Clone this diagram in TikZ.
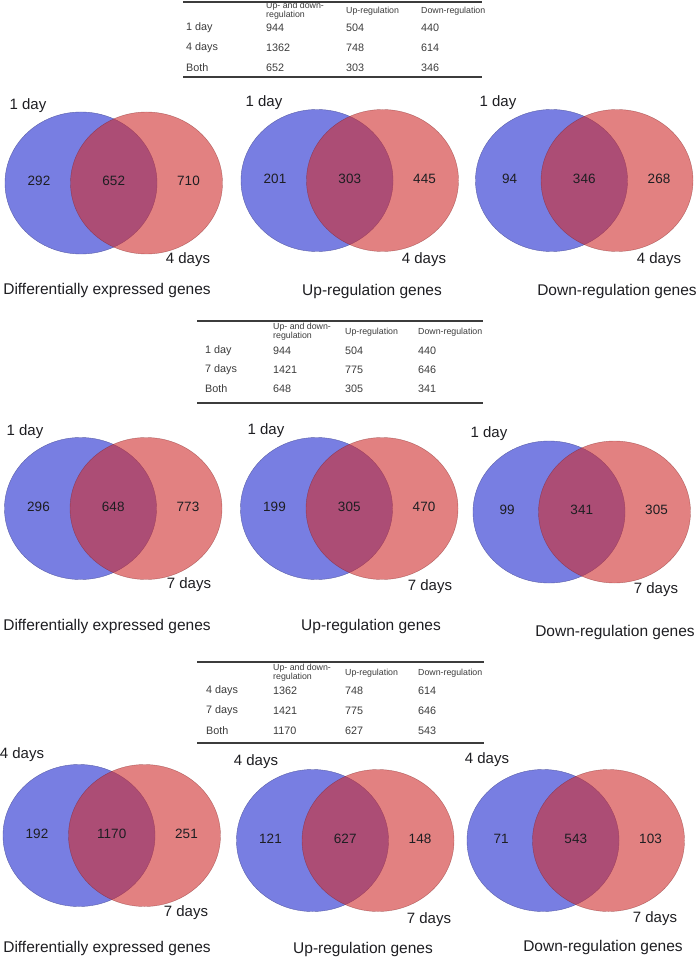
\documentclass[tikz,border=0pt]{standalone}
\usepackage{fontspec}
\setmainfont{Liberation Sans}
\definecolor{vblue}{RGB}{120,126,226}
\definecolor{vred}{RGB}{207,45,45}
\definecolor{txt}{RGB}{30,30,34}
\definecolor{tgray}{RGB}{60,60,60}
\newcommand\vennP[6]{%
  \fill[vblue] (#2,#3) ellipse [x radius=76pt, y radius=71pt];
  \draw[vblue!75!black, line width=0.4pt] (#2,#3) ellipse [x radius=76pt, y radius=71pt];
  \fill[vred, opacity=0.6] (#2+65.5,#3) ellipse [x radius=76pt, y radius=71pt];
  \draw[vred!60!black, opacity=0.5, line width=0.4pt] (#2+65.5,#3) ellipse [x radius=76pt, y radius=71pt];
  \node[num] (#1a) at (#2-42,#3-2) {#4};
  \node[num] (#1b) at (#2+32.75,#3-2) {#5};
  \node[num] (#1c) at (#2+107.5,#3-2) {#6};
}
\newcommand\trow[7]{%
  \node[tcell] (#1l) at (#7,#2) {#3};
  \node[tcell] (#1a) at (\cA,#2) {#4};
  \node[tcell] (#1b) at (\cB,#2) {#5};
  \node[tcell] (#1c) at (\cC,#2) {#6};
}
\newcommand\thdr[2]{%
  \node[thead] (#1a) at (\cA,#2) {Up- and down-\\regulation};
  \node[thead] (#1b) at (\cB,#2) {Up-regulation};
  \node[thead] (#1c) at (\cC,#2) {Down-regulation};
}
\begin{document}
\begin{tikzpicture}[x=1pt,y=-1pt,
  lab/.style={inner sep=0pt,text=txt,font=\fontsize{15}{18}\selectfont},
  num/.style={inner sep=0pt,text=txt,font=\fontsize{13.5}{16}\selectfont},
  ttl/.style={inner sep=0pt,text=txt,font=\fontsize{15.5}{18}\selectfont},
  tcell/.style={inner sep=0pt,anchor=west,text=tgray,font=\fontsize{10.8}{13}\selectfont},
  thead/.style={inner sep=0pt,anchor=west,text=tgray,align=left,font=\fontsize{8.8}{7}\selectfont},
  rulel/.style={draw=tgray,line width=1.1pt}]
\fill[white] (0,0) rectangle (699,957);
\useasboundingbox (0,0) rectangle (699,957);

% ---------- Table 1 ----------
\def\cA{266}\def\cB{346}\def\cC{421}
\draw[rulel] (183,2) -- (482,2);
\thdr{h1}{11}
\trow{r11}{28}{1 day}{944}{504}{440}{186}
\trow{r12}{48}{4 days}{1362}{748}{614}{186}
\trow{r13}{68}{Both}{652}{303}{346}{186}
\draw[rulel] (183,77) -- (482,77);

% ---------- Row 1 ----------
\vennP{v11}{81}{183}{292}{652}{710}
\node[lab] (l11a) at (28,106) {1 day};
\node[lab] (l11b) at (188,260) {4 days};
\node[ttl] (t11) at (107,290) {Differentially expressed genes};
\vennP{v12}{317}{180.5}{201}{303}{445}
\node[lab] (l12a) at (264,103) {1 day};
\node[lab] (l12b) at (424,260) {4 days};
\node[ttl] (t12) at (372,291) {Up-regulation genes};
\vennP{v13}{551.5}{180.5}{94}{346}{268}
\node[lab] (l13a) at (498,103) {1 day};
\node[lab] (l13b) at (659,260) {4 days};
\node[ttl] (t13) at (617,291) {Down-regulation genes};

% ---------- Table 2 ----------
\def\cA{273}\def\cB{345}\def\cC{418}
\draw[rulel] (197,321) -- (483,321);
\thdr{h2}{332}
\trow{r21}{351}{1 day}{944}{504}{440}{205}
\trow{r22}{370}{7 days}{1421}{775}{646}{205}
\trow{r23}{389}{Both}{648}{305}{341}{205}
\draw[rulel] (197,403) -- (483,403);

% ---------- Row 2 ----------
\vennP{v21}{80.5}{508.5}{296}{648}{773}
\node[lab] (l21a) at (25,432) {1 day};
\node[lab] (l21b) at (189,585) {7 days};
\node[ttl] (t21) at (107,626) {Differentially expressed genes};
\vennP{v22}{316.5}{508.5}{199}{305}{470}
\node[lab] (l22a) at (266,431) {1 day};
\node[lab] (l22b) at (430,587) {7 days};
\node[ttl] (t22) at (371,626) {Up-regulation genes};
\vennP{v23}{549}{512}{99}{341}{305}
\node[lab] (l23a) at (489,434) {1 day};
\node[lab] (l23b) at (656,590) {7 days};
\node[ttl] (t23) at (615,632) {Down-regulation genes};

% ---------- Table 3 ----------
\def\cA{273}\def\cB{345}\def\cC{418}
\draw[rulel] (197,662) -- (484,662);
\thdr{h3}{673}
\trow{r31}{691}{4 days}{1362}{748}{614}{206}
\trow{r32}{711}{7 days}{1421}{775}{646}{206}
\trow{r33}{731}{Both}{1170}{627}{543}{206}
\draw[rulel] (197,743) -- (484,743);

% ---------- Row 3 ----------
\vennP{v31}{79}{835.5}{192}{1170}{251}
\node[lab] (l31a) at (22,755) {4 days};
\node[lab] (l31b) at (186,913) {7 days};
\node[ttl] (t31) at (107,948) {Differentially expressed genes};
\vennP{v32}{312.5}{840.5}{121}{627}{148}
\node[lab] (l32a) at (256,762) {4 days};
\node[lab] (l32b) at (429,920) {7 days};
\node[ttl] (t32) at (363,949) {Up-regulation genes};
\vennP{v33}{543}{840.5}{71}{543}{103}
\node[lab] (l33a) at (487,760) {4 days};
\node[lab] (l33b) at (655,919) {7 days};
\node[ttl] (t33) at (603,947) {Down-regulation genes};
\end{tikzpicture}
\end{document}
